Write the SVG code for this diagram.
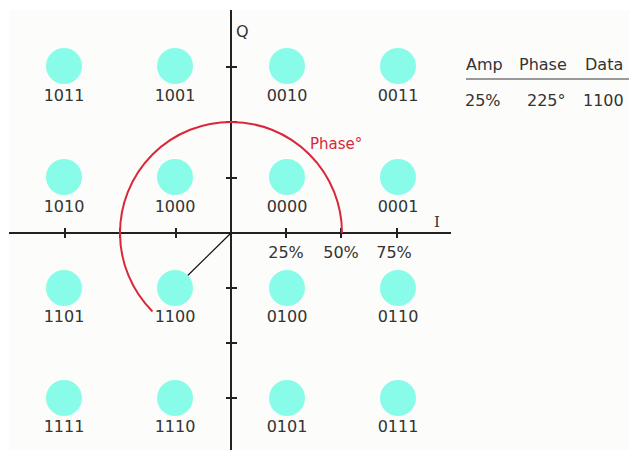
<svg xmlns="http://www.w3.org/2000/svg" width="629" height="450" viewBox="0 0 629 450">
<style>
.pt{fill:#88fce8}
.lbl{font-family:"DejaVu Sans",Verdana,sans-serif;font-size:16px;fill:#333;text-anchor:middle}
.tbl{font-family:"DejaVu Sans",Verdana,sans-serif;font-size:16px;fill:#333}
.axis{stroke:#222;stroke-width:2;fill:none}
.tick{stroke:#222;stroke-width:2}
</style>
<rect x="0" y="0" width="629" height="450" fill="#ffffff"/>
<rect x="9" y="10" width="620" height="440" fill="#fcfcfa"/>
<g id="connectors">
<path class="axis" d="M231 10V450M9 233H451"/>
<path class="tick" d="M65 228V238M120 228V238M176 228V238M286 228V238M341 228V238M397 228V238M226 67H237M226 122H237M226 178H237M226 288H237M226 343H237M226 398H237"/>
<path d="M342 233A111 111 0 0 0 120 233A111 111 0 0 0 152.5 311.5" fill="none" stroke="#d8283a" stroke-width="2"/>
<line x1="231" y1="233" x2="175" y2="288" stroke="#111" stroke-width="1.2"/>
</g>
<g id="axis-labels">
<text x="236" y="37" class="tbl">Q</text>
<text x="434" y="227" style="font-family:'DejaVu Serif',serif;font-size:15px;fill:#333">I</text>
<text x="286" y="258" class="lbl">25%</text>
<text x="341" y="258" class="lbl">50%</text>
<text x="394" y="258" class="lbl">75%</text>
<text x="310" y="149" class="tbl" style="fill:#d8283a;font-size:15px">Phase°</text>
</g>
<g id="n1011"><circle class="pt" cx="64" cy="66" r="18"/><text class="lbl" x="64" y="101">1011</text></g>
<g id="n1001"><circle class="pt" cx="175" cy="66" r="18"/><text class="lbl" x="175" y="101">1001</text></g>
<g id="n0010"><circle class="pt" cx="287" cy="66" r="18"/><text class="lbl" x="287" y="101">0010</text></g>
<g id="n0011"><circle class="pt" cx="398" cy="66" r="18"/><text class="lbl" x="398" y="101">0011</text></g>
<g id="n1010"><circle class="pt" cx="64" cy="177" r="18"/><text class="lbl" x="64" y="212">1010</text></g>
<g id="n1000"><circle class="pt" cx="175" cy="177" r="18"/><text class="lbl" x="175" y="212">1000</text></g>
<g id="n0000"><circle class="pt" cx="287" cy="177" r="18"/><text class="lbl" x="287" y="212">0000</text></g>
<g id="n0001"><circle class="pt" cx="398" cy="177" r="18"/><text class="lbl" x="398" y="212">0001</text></g>
<g id="n1101"><circle class="pt" cx="64" cy="288" r="18"/><text class="lbl" x="64" y="322">1101</text></g>
<g id="n1100"><circle class="pt" cx="175" cy="288" r="18"/><text class="lbl" x="175" y="322">1100</text></g>
<g id="n0100"><circle class="pt" cx="287" cy="288" r="18"/><text class="lbl" x="287" y="322">0100</text></g>
<g id="n0110"><circle class="pt" cx="398" cy="288" r="18"/><text class="lbl" x="398" y="322">0110</text></g>
<g id="n1111"><circle class="pt" cx="64" cy="398" r="18"/><text class="lbl" x="64" y="432">1111</text></g>
<g id="n1110"><circle class="pt" cx="175" cy="398" r="18"/><text class="lbl" x="175" y="432">1110</text></g>
<g id="n0101"><circle class="pt" cx="287" cy="398" r="18"/><text class="lbl" x="287" y="432">0101</text></g>
<g id="n0111"><circle class="pt" cx="398" cy="398" r="18"/><text class="lbl" x="398" y="432">0111</text></g>
<g id="table">
<text class="tbl" x="466" y="70">Amp</text>
<text class="tbl" x="519" y="70">Phase</text>
<text class="tbl" x="585" y="70">Data</text>
<line x1="466" y1="79" x2="629" y2="79" stroke="#999" stroke-width="2"/>
<text class="tbl" x="465" y="106">25%</text>
<text class="tbl" x="527" y="106">225°</text>
<text class="tbl" x="583" y="106">1100</text>
</g>
</svg>
